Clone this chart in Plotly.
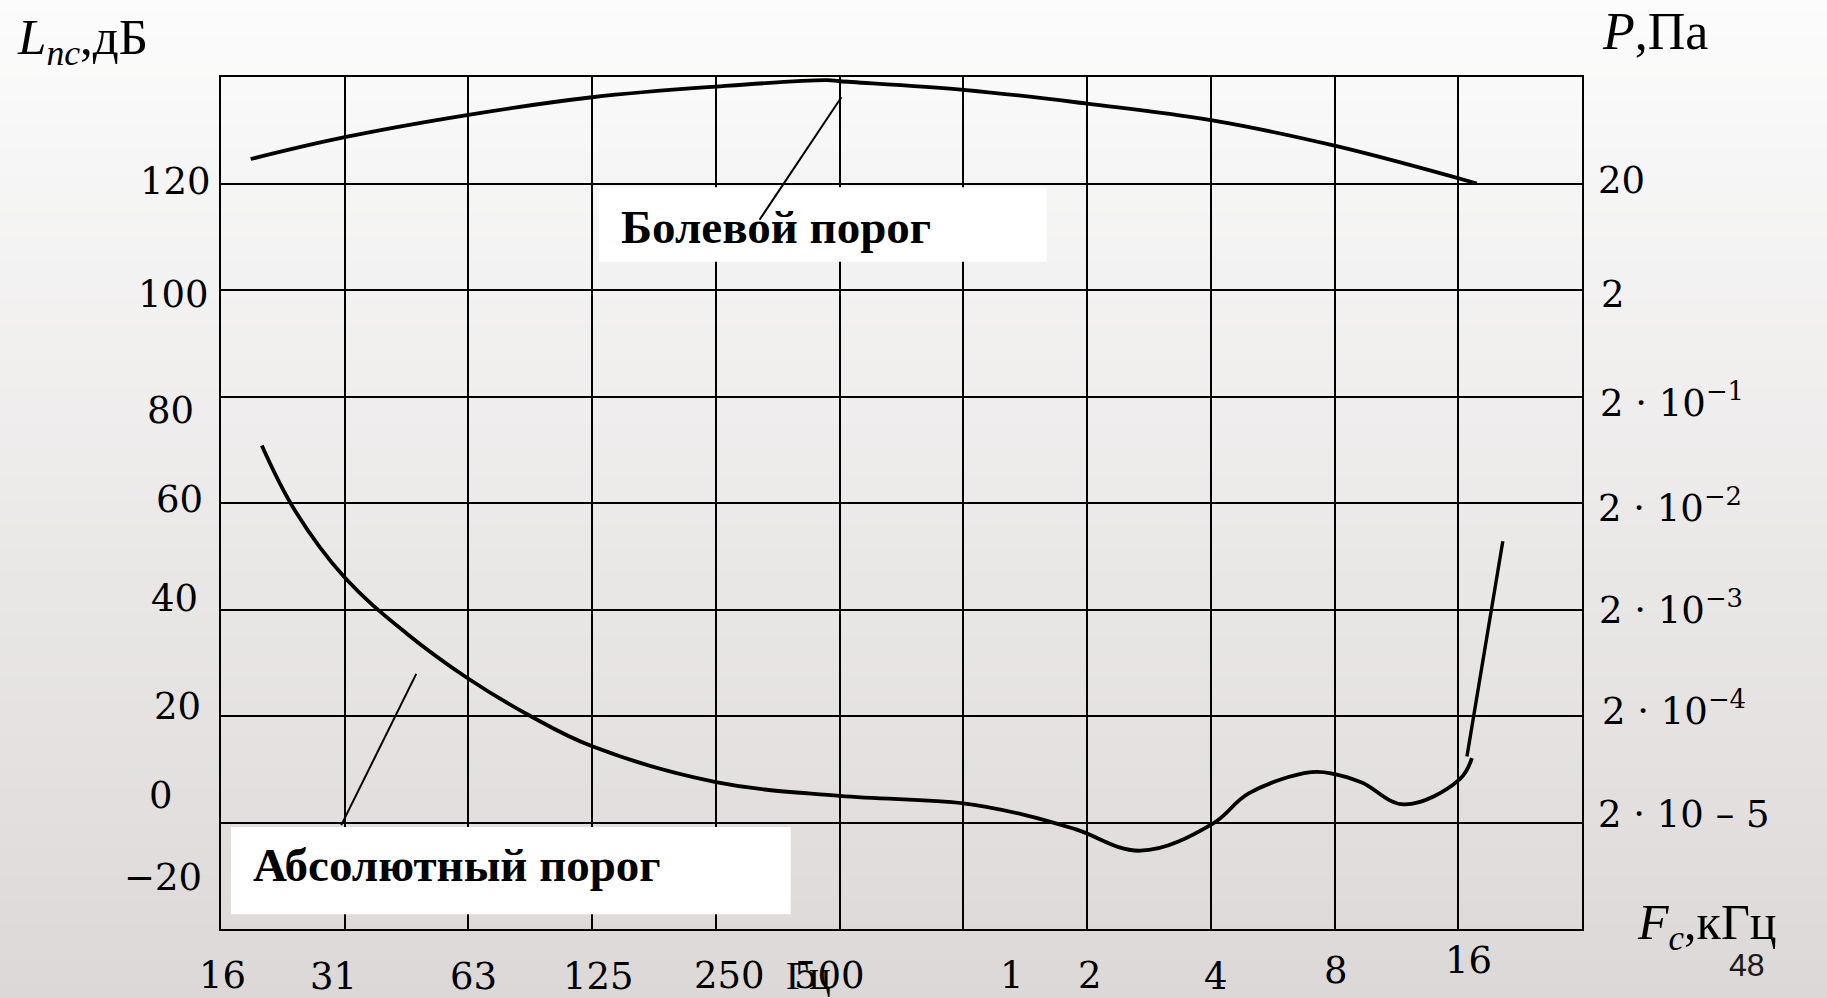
import plotly.graph_objects as go

# Octave index on the frequency axis: 0 = 16 Hz, 1 = 31.5 Hz, ... 10 = 16 kHz, 11 = 32 kHz
octave_ticks = list(range(12))
# Sound pressure level gridlines, dB
level_ticks = list(range(-20, 141, 20))

# Pain threshold (Болевой порог)
pain_oct = [0.24, 1, 2, 3, 4, 4.9, 5, 6, 7, 8, 9, 10.15]
pain_db = [124.6, 128.7, 132.9, 136.2, 138.2, 139.4, 139.2, 137.6, 135.0, 131.9, 127.1, 120.0]

# Absolute threshold of hearing (Абсолютный порог)
abs_oct = [0.33, 0.6, 1, 1.5, 2, 2.5, 3, 4, 5, 6, 6.5, 6.91, 7.43, 8.01, 8.31,
           8.81, 9, 9.22, 9.56, 10.01, 10.11]
abs_db = [70.8, 58.5, 46.0, 35.5, 27.0, 20, 14.3, 7.6, 5.0, 3.6, 1.4, -1.3, -5.3, -0.3,
          5.5, 9.45, 9.1, 7.5, 3.4, 8.1, 12.1]

# Steep rise of the absolute threshold above 16 kHz
hf_oct = [10.07, 10.36]
hf_db = [12.4, 52.8]

# Axis labels
level_labels = ["120", "100", "80", "60", "40", "20", "0", "−20"]
pressure_labels = ["20", "2", "2 · 10<sup>−1</sup>", "2 · 10<sup>−2</sup>",
                   "2 · 10<sup>−3</sup>", "2 · 10<sup>−4</sup>", "2 · 10 – 5"]
freq_labels = ["16", "31", "63", "125", "250", "500", "1", "2", "4", "8", "16"]

# Label placement (axis units: octave index, dB)
level_label_pos = [(-0.066, 120.4), (-0.078, 99.2), (-0.200, 77.3), (-0.133, 60.7),
                   (-0.173, 42.0), (-0.146, 21.8), (-0.375, 5.0), (-0.141, -10.3)]
pressure_label_pos = [(11.116, 116.1), (11.135, 94.8), (11.127, 74.2), (11.111, 54.6),
                      (11.121, 35.4), (11.143, 16.5), (11.111, -3.0)]
freq_label_pos = [(0.013, -28.8), (0.913, -28.9), (2.038, -28.9), (3.048, -28.9),
                  (4.111, -28.8), (4.919, -28.8), (6.394, -28.7), (7.021, -28.8),
                  (8.039, -28.9), (9.009, -27.7), (10.082, -25.9)]

X_RANGE = [0, 11]
Y_RANGE = [-20, 140]

W, H = 1827, 998
ML, MR, MT, MB = 221, 245, 77, 69
plot_h = H - MT - MB
DIGITS = "DejaVu Serif"
SERIF = "Liberation Serif"


def to_paper(x, y):
    """Axis units -> paper fractions (lets labels sit outside the plot area)."""
    return ((x - X_RANGE[0]) / (X_RANGE[1] - X_RANGE[0]),
            (y - Y_RANGE[0]) / (Y_RANGE[1] - Y_RANGE[0]))


fig = go.Figure()

curve_line = dict(color="black", width=3.8, shape="spline", smoothing=1.1)
fig.add_trace(go.Scatter(x=pain_oct, y=pain_db, mode="lines", line=curve_line,
                         hoverinfo="skip", showlegend=False))
fig.add_trace(go.Scatter(x=abs_oct, y=abs_db, mode="lines", line=curve_line,
                         hoverinfo="skip", showlegend=False))
fig.add_trace(go.Scatter(x=hf_oct, y=hf_db, mode="lines",
                         line=dict(color="black", width=3.4),
                         hoverinfo="skip", showlegend=False))

shapes = []

# Vertical page gradient: white at the top, light warm grey at the bottom
top_rgb = (252, 252, 252)
bot_rgb = (220, 216, 215)
n_bands = 80
for i in range(n_bands):
    p0 = H * i / n_bands
    p1 = H * (i + 1) / n_bands + 1
    t = (i + 0.5) / n_bands
    c = tuple(round(a + (b - a) * t) for a, b in zip(top_rgb, bot_rgb))
    shapes.append(dict(type="rect", xref="paper", yref="paper", layer="below",
                       x0=-0.3, x1=1.3,
                       y0=(H - MB - p1) / plot_h, y1=(H - MB - p0) / plot_h,
                       line=dict(width=0), fillcolor="rgb(%d,%d,%d)" % c))

# White label boxes
label_boxes = [(3.054, 6.673, 105.3, 119.3), (0.081, 4.604, -17.24, -0.83)]
for x0, x1, y0, y1 in label_boxes:
    shapes.append(dict(type="rect", xref="x", yref="y", layer="above",
                       x0=x0, x1=x1, y0=y0, y1=y1,
                       line=dict(width=0), fillcolor="white"))

# Leader lines from the labels to the curves
leaders = [((5.014, 136.2), (4.353, 113.2)), ((1.578, 27.9), (0.972, -0.5))]
for (xa, ya), (xb, yb) in leaders:
    shapes.append(dict(type="line", xref="x", yref="y", layer="above",
                       x0=xa, y0=ya, x1=xb, y1=yb,
                       line=dict(color="black", width=2)))

annotations = []


def text(x, y, s, size, family, xanchor="center", yanchor="middle", color="black"):
    xp, yp = to_paper(x, y)
    annotations.append(dict(x=xp, y=yp, xref="paper", yref="paper", text=s,
                            showarrow=False, xanchor=xanchor, yanchor=yanchor,
                            font=dict(size=size, family=family, color=color)))


for s, (x, y) in zip(level_labels, level_label_pos):
    text(x, y, s, 37, DIGITS, xanchor="right")
for s, (x, y) in zip(pressure_labels, pressure_label_pos):
    text(x, y, s, 37, DIGITS, xanchor="left", yanchor="bottom")
for s, (x, y) in zip(freq_labels, freq_label_pos):
    text(x, y, s, 37, DIGITS)

text(4.748, -28.7, "Гц", 40, SERIF)

text(-1.668, 153.2, "<i>L</i><sub><i>nc</i></sub>,дБ", 51, SERIF, xanchor="left", yanchor="top")
text(11.143, 154.2, "<i>P</i>,Па", 52, SERIF, xanchor="left", yanchor="top")
text(11.426, -13.1, "<i>F</i><sub><i>c</i></sub>,кГц", 50, SERIF, xanchor="left", yanchor="top")
text(12.335, -26.7, "48", 32, "Liberation Sans", color="#1a1a1a")

text(3.214, 111.9, "<b>Болевой порог</b>", 47, SERIF, xanchor="left")
text(0.239, -7.9, "<b>Абсолютный порог</b>", 47, SERIF, xanchor="left")

axis_common = dict(showgrid=True, gridcolor="black", gridwidth=2, zeroline=False,
                   showticklabels=False, ticks="", showline=True, linecolor="black",
                   linewidth=2, mirror=True, fixedrange=True)

fig.update_layout(
    width=W, height=H, autosize=False,
    margin=dict(l=ML, r=MR, t=MT, b=MB, pad=0),
    paper_bgcolor="white", plot_bgcolor="rgba(0,0,0,0)",
    xaxis=dict(range=X_RANGE, tickmode="array", tickvals=octave_ticks, **axis_common),
    yaxis=dict(range=Y_RANGE, tickmode="array", tickvals=level_ticks, **axis_common),
    shapes=shapes, annotations=annotations, showlegend=False,
)

fig.write_html("out.html", config={"displayModeBar": False, "staticPlot": True})
